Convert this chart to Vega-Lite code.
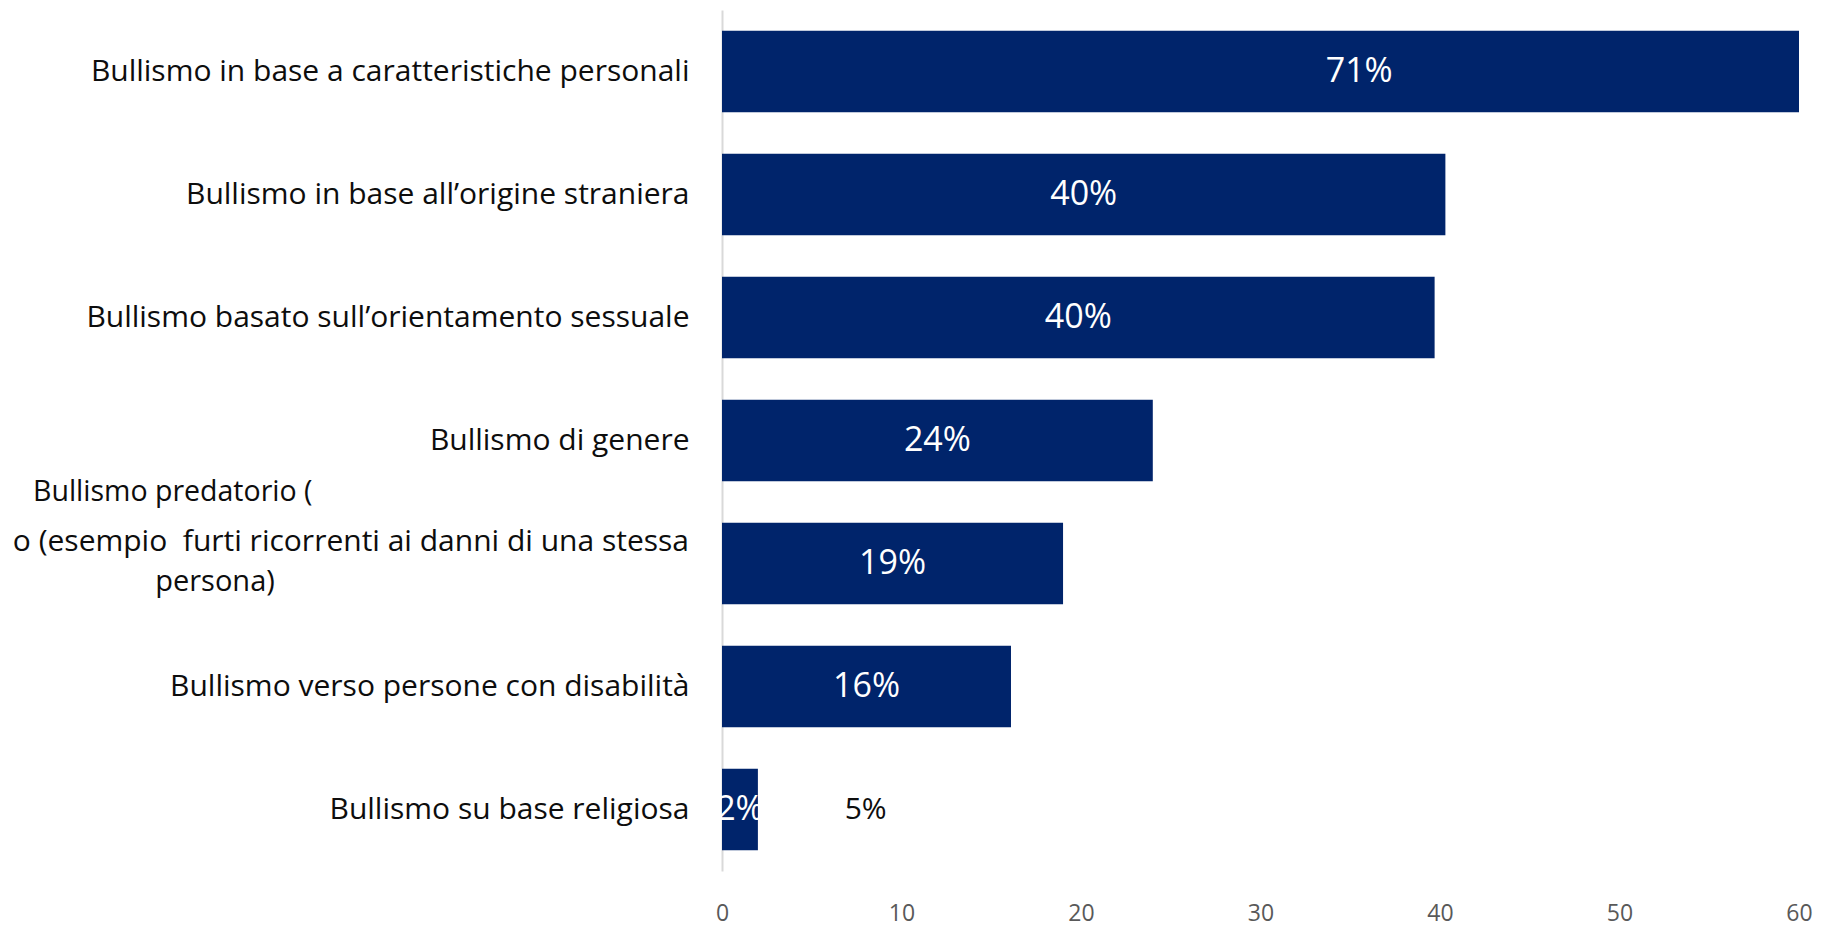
{
  "$schema": "https://vega.github.io/schema/vega-lite/v6.json",
  "width": 1077,
  "height": 861,
  "autosize": {"type": "none"},
  "padding": {"left": 722, "top": 10, "right": 30, "bottom": 57},
  "background": "white",
  "config": {"view": {"stroke": null}, "font": "Open Sans"},
  "datasets": {
    "bullismo": [
      {"categoria": "Bullismo in base a caratteristiche personali", "valore": 71},
      {"categoria": "Bullismo in base all’origine straniera", "valore": 40.3},
      {"categoria": "Bullismo basato sull’orientamento sessuale", "valore": 39.7},
      {"categoria": "Bullismo di genere", "valore": 24},
      {"categoria": "Bullismo predatorio (esempio furti ricorrenti ai danni di una stessa persona)", "valore": 19},
      {"categoria": "Bullismo verso persone con disabilità", "valore": 16.1},
      {"categoria": "Bullismo su base religiosa", "valore": 2}
    ],
    "righe": [
      {"categoria": "Bullismo predatorio (esempio furti ricorrenti ai danni di una stessa persona)", "riga": 1, "testo": "Bullismo predatorio ("},
      {"categoria": "Bullismo predatorio (esempio furti ricorrenti ai danni di una stessa persona)", "riga": 2, "testo": "o (esempio\u00a0 furti ricorrenti ai danni di una stessa"},
      {"categoria": "Bullismo predatorio (esempio furti ricorrenti ai danni di una stessa persona)", "riga": 3, "testo": "persona)"}
    ],
    "note": [
      {"categoria": "Bullismo su base religiosa", "valore": 5, "posizione": 8}
    ]
  },
  "data": {"name": "bullismo"},
  "encoding": {
    "y": {
      "field": "categoria",
      "type": "nominal",
      "sort": null,
      "scale": {"paddingInner": 0.336, "paddingOuter": 0.168},
      "axis": {
        "title": null,
        "grid": false,
        "ticks": false,
        "domainColor": "#d9d9d9",
        "domainWidth": 2,
        "labelPadding": 33,
        "labelFontSize": 30,
        "labelColor": "#0d0d0d",
        "labelLimit": 1000,
        "labelExpr": "indexof(datum.value, 'predatorio') >= 0 ? '' : datum.value"
      }
    }
  },
  "layer": [
    {
      "mark": {"type": "bar", "color": "#00246B", "clip": true},
      "encoding": {
        "x": {
          "field": "valore",
          "type": "quantitative",
          "scale": {"domain": [0, 60], "nice": false},
          "axis": {
            "title": null,
            "values": [0, 10, 20, 30, 40, 50, 60],
            "domain": false,
            "ticks": false,
            "tickSize": 0,
            "grid": false,
            "labelFlush": false,
            "labelPadding": 31,
            "labelFontSize": 23,
            "labelColor": "#595959"
          }
        }
      }
    },
    {
      "transform": [
        {"calculate": "datum.valore / 2", "as": "centro"},
        {"calculate": "format(datum.valore, '.0f') + '%'", "as": "etichetta"}
      ],
      "mark": {"type": "text", "color": "white", "fontSize": 34, "baseline": "middle"},
      "encoding": {
        "x": {"field": "centro", "type": "quantitative", "scale": {"domain": [0, 60], "nice": false}},
        "text": {"field": "etichetta"}
      }
    },
    {
      "data": {"name": "note"},
      "transform": [{"calculate": "format(datum.valore, '.0f') + '%'", "as": "etichetta"}],
      "mark": {"type": "text", "color": "#0d0d0d", "fontSize": 30, "baseline": "middle"},
      "encoding": {
        "x": {"field": "posizione", "type": "quantitative", "scale": {"domain": [0, 60], "nice": false}},
        "text": {"field": "etichetta"}
      }
    },
    {
      "data": {"name": "righe"},
      "transform": [{"filter": "datum.riga === 1"}],
      "mark": {"type": "text", "color": "#0d0d0d", "fontSize": 28.5, "align": "left", "baseline": "middle", "dx": -689, "dy": -72},
      "encoding": {"x": {"datum": 0}, "text": {"field": "testo"}}
    },
    {
      "data": {"name": "righe"},
      "transform": [{"filter": "datum.riga === 2"}],
      "mark": {"type": "text", "color": "#0d0d0d", "fontSize": 30, "align": "right", "baseline": "middle", "dx": -33, "dy": -22},
      "encoding": {"x": {"datum": 0}, "text": {"field": "testo"}}
    },
    {
      "data": {"name": "righe"},
      "transform": [{"filter": "datum.riga === 3"}],
      "mark": {"type": "text", "color": "#0d0d0d", "fontSize": 29, "align": "center", "baseline": "middle", "dx": -507, "dy": 18},
      "encoding": {"x": {"datum": 0}, "text": {"field": "testo"}}
    }
  ]
}
